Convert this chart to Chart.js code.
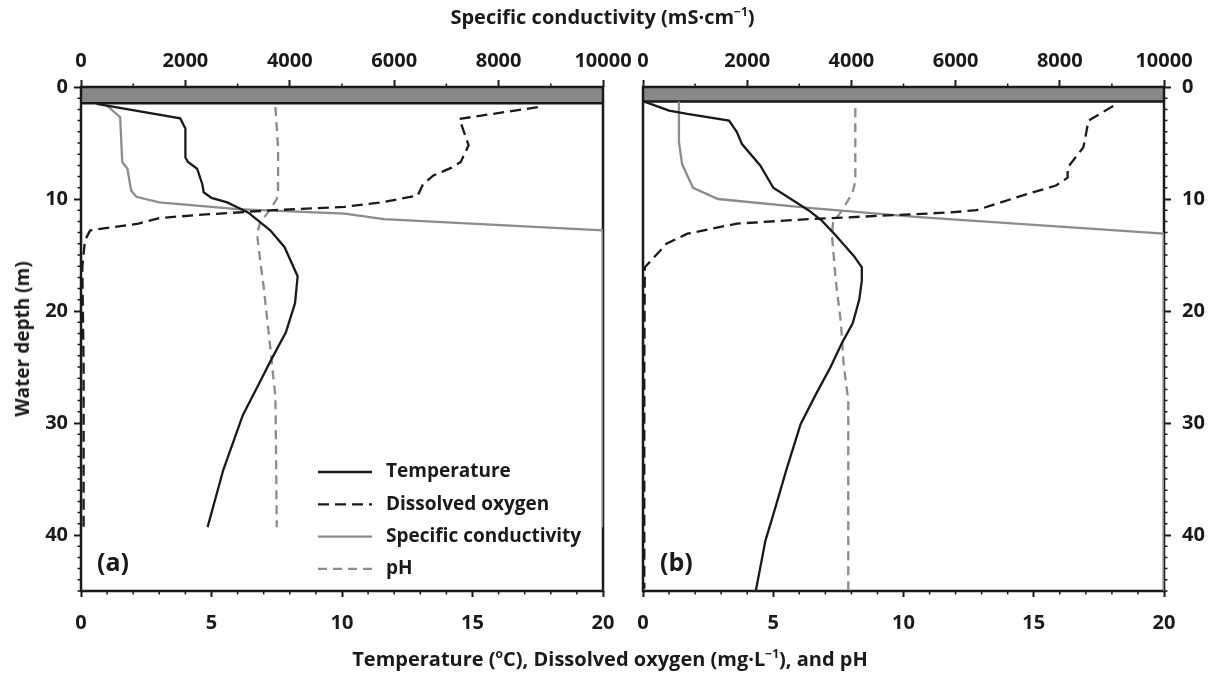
<!DOCTYPE html>
<html>
<head>
<meta charset="utf-8">
<script src="https://cdn.jsdelivr.net/npm/chart.js@4"></script>
<style>
  html, body { margin: 0; padding: 0; background: #fff; }
  body { width: 1209px; height: 675px; position: relative; overflow: hidden; font-family: "Open Sans", Lato, sans-serif; color: #1a1a1a; }
  canvas { position: absolute; top: 0; }
  #chartA { left: 0; }
  #chartB { left: 600px; }
  .lbl { position: absolute; font-weight: bold; white-space: nowrap; }
  .lbl sup { font-size: 0.6em; vertical-align: 0.7em; line-height: 0; }
  #topTitle { left: 0; width: 1205px; text-align: center; top: 3px; font-size: 20px; }
  #bottomTitle { left: 0; width: 1220px; text-align: center; top: 645px; font-size: 20px; }
  #leftTitle { left: 22px; top: 339px; font-size: 19px; transform: translate(-50%, -50%) rotate(-90deg); }
  .panel { font-size: 25px; top: 544px; }
</style>
</head>
<body>
<canvas id="chartA" width="640" height="675"></canvas>
<canvas id="chartB" width="609" height="675"></canvas>
<div class="lbl" id="topTitle">Specific conductivity (mS·cm<sup>−1</sup>)</div>
<div class="lbl" id="bottomTitle">Temperature (<sup>o</sup>C), Dissolved oxygen (mg·L<sup>−1</sup>), and pH</div>
<div class="lbl" id="leftTitle">Water depth (m)</div>
<div class="lbl panel" style="left:97px">(a)</div>
<div class="lbl panel" style="left:660px">(b)</div>
<script>
const INK = '#1a1a1a';
const GREY = '#8c8c8c';
const FONT = '"Open Sans", Lato, sans-serif';

// panel (a)
const tempDepthA = [1.5, 2.8, 3.7, 6.3, 6.7, 7.3, 8.7, 9.4, 9.9, 10.3, 11.2, 12.8, 14.3, 16.9, 19.3, 21.9, 24.3, 26.8, 29.3, 34.2, 39.3];
const tempA = [0.6, 3.8, 4.0, 4.0, 4.1, 4.45, 4.65, 4.7, 5.0, 5.6, 6.4, 7.25, 7.8, 8.3, 8.2, 7.85, 7.3, 6.75, 6.2, 5.45, 4.85];
const doDepthA = [1.8, 2.85, 5.2, 6.7, 7.2, 7.9, 8.7, 9.7, 10.3, 10.7, 11.0, 11.4, 11.7, 12.2, 12.8, 13.7, 16.1, 25, 39.3];
const doA = [17.5, 14.5, 14.85, 14.55, 14.2, 13.5, 13.1, 12.9, 11.5, 10.1, 7.4, 4.65, 3.0, 2.2, 0.35, 0.15, 0.05, 0.1, 0.1];
const condDepthA = [1.6, 2.7, 6.7, 7.3, 9.25, 9.8, 10.3, 10.9, 11.3, 11.8, 12.8, 39.3];
const condA = [480, 750, 790, 890, 960, 1060, 1500, 3000, 5050, 5800, 10000, 10000];
const phDepthA = [1.8, 5.4, 9.6, 10.0, 10.9, 12.2, 13.1, 14.3, 17.9, 23.2, 27.7, 39.3];
const phA = [7.45, 7.55, 7.55, 7.5, 7.25, 6.85, 6.75, 6.8, 7.0, 7.25, 7.45, 7.5];
const bandA = 1.45;

// panel (b)
const tempDepthB = [1.3, 2.1, 2.4, 3.0, 4.0, 5.1, 7.0, 9.0, 11.0, 11.9, 13.0, 15.1, 16.1, 17.3, 19.0, 21.1, 22.8, 25.0, 27.6, 30.1, 34.2, 37.8, 40.5, 45];
const tempB = [0.05, 1.0, 1.7, 3.3, 3.6, 3.8, 4.5, 5.0, 6.35, 6.85, 7.3, 8.1, 8.4, 8.4, 8.3, 8.05, 7.65, 7.2, 6.6, 6.05, 5.5, 5.05, 4.7, 4.33];
const doDepthB = [1.7, 3.0, 4.9, 5.4, 7.2, 8.1, 8.8, 9.7, 11.0, 11.2, 11.5, 11.8, 12.2, 13.1, 14.0, 16.1, 25, 44.8];
const doB = [18.05, 17.1, 16.95, 16.9, 16.3, 16.3, 15.85, 14.55, 12.8, 11.8, 9.1, 6.35, 3.6, 1.7, 0.9, 0.07, 0.05, 0.05];
const condDepthB = [1.3, 4.9, 6.9, 9.0, 10.0, 10.8, 11.6, 13.1, 45];
const condB = [690, 690, 750, 960, 1440, 3180, 5230, 10000, 10000];
const phDepthB = [1.9, 8.4, 9.4, 11.0, 12.1, 13.1, 17.3, 21.1, 24.7, 28.0, 45];
const phB = [8.15, 8.15, 8.05, 7.65, 7.3, 7.25, 7.4, 7.6, 7.7, 7.88, 7.88];
const bandB = 1.3;

// axes
const tempRange = [0, 20];
const condRange = [0, 10000];
const depthRange = [0, 45];
const tempTicks = [0, 5, 10, 15, 20];
const condTicks = [0, 2000, 4000, 6000, 8000, 10000];
const depthTicks = [0, 10, 20, 30, 40];
const tempMinorStep = 1;
const condMinorStep = 1000;
const depthMinorStep = 1;

const seriesNames = ['Temperature', 'Dissolved oxygen', 'Specific conductivity', 'pH'];

function pts(xs, ys) {
  return xs.map((x, i) => ({ x: x, y: ys[i] }));
}

function buildDatasets(temp, tempDepth, dox, doDepth, cond, condDepth, ph, phDepth, band) {
  const line = { pointRadius: 0, fill: false, tension: 0, borderWidth: 2.3 };
  return [
    Object.assign({ label: seriesNames[0], data: pts(temp, tempDepth), borderColor: INK }, line),
    Object.assign({ label: seriesNames[1], data: pts(dox, doDepth), borderColor: INK, borderDash: [11, 6] }, line),
    Object.assign({ label: seriesNames[2], data: pts(cond, condDepth), borderColor: GREY, xAxisID: 'x2', borderWidth: 2.5 }, line),
    Object.assign({ label: seriesNames[3], data: pts(ph, phDepth), borderColor: GREY, borderDash: [9, 6] }, line),
    {
      label: '', data: pts([tempRange[0], tempRange[1], tempRange[1], tempRange[0], tempRange[0]], [0, 0, band, band, 0]),
      borderColor: INK, backgroundColor: '#888888', borderWidth: 2.5, pointRadius: 0, fill: 'shape', tension: 0
    }
  ];
}

const frame = {
  id: 'frame',
  beforeDatasetsDraw(chart) {
    const a = chart.chartArea, ctx = chart.ctx;
    ctx.save();
    ctx.strokeStyle = INK;
    ctx.lineWidth = 2.5;
    ctx.strokeRect(a.left, a.top, a.right - a.left, a.bottom - a.top);
    ctx.restore();
  }
};

const minorTicks = {
  id: 'minorTicks',
  afterDraw(chart) {
    const a = chart.chartArea, ctx = chart.ctx;
    const sx = chart.scales.x, sx2 = chart.scales.x2, sy = chart.scales.y;
    const len = 3.5;
    ctx.save();
    ctx.strokeStyle = INK;
    ctx.lineWidth = 1.5;
    ctx.beginPath();
    for (let v = tempRange[0]; v <= tempRange[1]; v += tempMinorStep) {
      if (tempTicks.includes(v)) continue;
      const p = sx.getPixelForValue(v);
      ctx.moveTo(p, a.bottom); ctx.lineTo(p, a.bottom + len);
    }
    for (let v = condRange[0]; v <= condRange[1]; v += condMinorStep) {
      if (condTicks.includes(v)) continue;
      const p = sx2.getPixelForValue(v);
      ctx.moveTo(p, a.top); ctx.lineTo(p, a.top - len);
    }
    const right = sy.position === 'right';
    const ex = right ? a.right : a.left;
    for (let v = depthRange[0]; v <= depthRange[1]; v += depthMinorStep) {
      if (depthTicks.includes(v)) continue;
      const p = sy.getPixelForValue(v);
      ctx.moveTo(ex, p); ctx.lineTo(right ? ex + len : ex - len, p);
    }
    ctx.stroke();
    ctx.restore();
  }
};

const insideLegend = {
  id: 'insideLegend',
  afterDatasetsDraw(chart, args, opts) {
    if (!opts.show) return;
    const a = chart.chartArea, ctx = chart.ctx;
    const x0 = a.left + 237, x1 = a.left + 291, tx = a.left + 305;
    let y = a.top + 385;
    ctx.save();
    ctx.font = 'bold 19px ' + FONT;
    ctx.textBaseline = 'middle';
    chart.data.datasets.forEach(ds => {
      if (!ds.label) return;
      ctx.strokeStyle = ds.borderColor;
      ctx.lineWidth = ds.borderWidth;
      ctx.setLineDash(ds.borderDash || []);
      ctx.beginPath();
      ctx.moveTo(x0, y); ctx.lineTo(x1, y);
      ctx.stroke();
      ctx.setLineDash([]);
      ctx.fillStyle = INK;
      ctx.fillText(ds.label, tx, y);
      y += 32.3;
    });
    ctx.restore();
  }
};

function tickFont() {
  return { family: FONT, size: 20, weight: 'bold' };
}

function fixTicks(list) {
  return scale => { scale.ticks = list.map(v => ({ value: v })); };
}

function plain(v) {
  return String(v);
}

function buildChart(id, datasets, side, padLeft, padRight, yWidth, showLegend) {
  const grid = { drawOnChartArea: false, drawTicks: true, tickLength: 7, tickWidth: 2, tickColor: INK };
  return new Chart(document.getElementById(id), {
    type: 'line',
    data: { datasets: datasets },
    options: {
      responsive: false,
      animation: false,
      devicePixelRatio: 1,
      layout: { padding: { left: padLeft, right: padRight, top: 0, bottom: 0 } },
      plugins: { legend: { display: false }, tooltip: { enabled: false }, insideLegend: { show: showLegend } },
      scales: {
        x: {
          type: 'linear', position: 'bottom', min: tempRange[0], max: tempRange[1],
          afterBuildTicks: fixTicks(tempTicks),
          afterFit: s => { s.height = 84; },
          ticks: { font: tickFont(), color: INK, padding: 14, maxRotation: 0, autoSkip: false, callback: plain },
          grid: Object.assign({}, grid, { tickLength: 6 }), border: { display: false }
        },
        x2: {
          type: 'linear', position: 'top', min: condRange[0], max: condRange[1],
          afterBuildTicks: fixTicks(condTicks),
          afterFit: s => { s.height = 87; },
          ticks: { font: tickFont(), color: INK, padding: 7, maxRotation: 0, autoSkip: false, callback: plain },
          grid: grid, border: { display: false }
        },
        y: {
          type: 'linear', position: side, reverse: true, min: depthRange[0], max: depthRange[1],
          afterBuildTicks: fixTicks(depthTicks),
          afterFit: s => { s.width = yWidth; },
          ticks: { font: tickFont(), color: INK, padding: side === 'left' ? 6 : 11, autoSkip: false, callback: plain },
          grid: grid, border: { display: false }
        }
      }
    },
    plugins: [frame, minorTicks, insideLegend]
  });
}

buildChart('chartA', buildDatasets(tempA, tempDepthA, doA, doDepthA, condA, condDepthA, phA, phDepthA, bandA), 'left', 0, 37, 81, true);
buildChart('chartB', buildDatasets(tempB, tempDepthB, doB, doDepthB, condB, condDepthB, phB, phDepthB, bandB), 'right', 43, 0, 45, false);
</script>
</body>
</html>
